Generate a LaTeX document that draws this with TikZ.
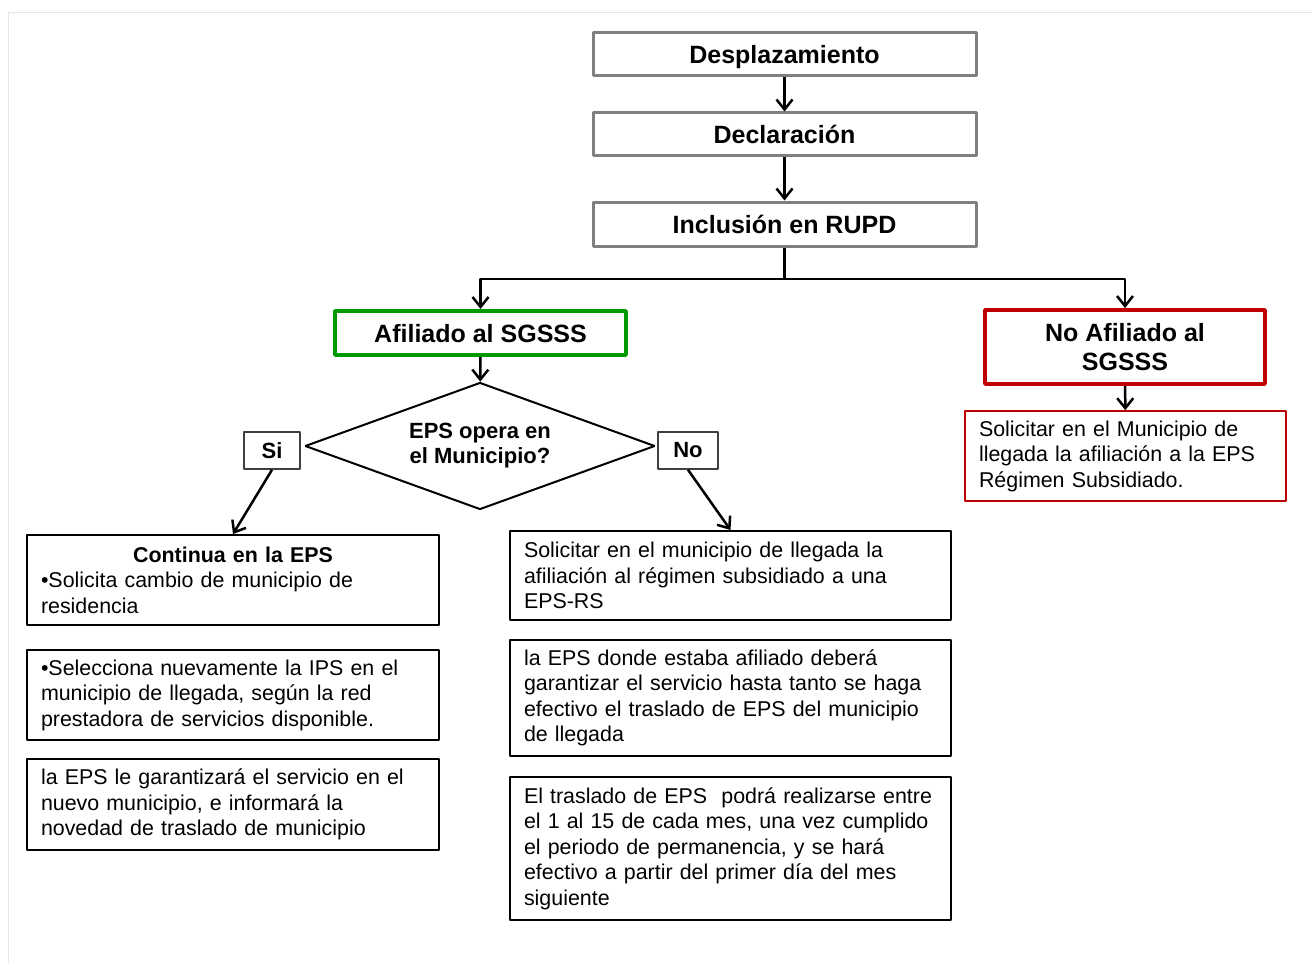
\documentclass[tikz,border=0pt]{standalone}
\usepackage{fontspec}
\setmainfont{Liberation Sans}
\usetikzlibrary{shapes.geometric,arrows.meta}
\definecolor{boxgray}{RGB}{127,127,127}
\definecolor{okgreen}{RGB}{0,153,0}
\definecolor{nored}{RGB}{192,0,0}

\begin{document}
\begin{tikzpicture}[>={Straight Barb[length=5pt,width=8pt]},line join=bevel,x=0.5pt,y=-0.5pt,
  headbase/.style={draw=boxgray,line width=1.5pt,minimum width=191.5pt,minimum height=21.5pt,inner sep=0pt,font=\bfseries\fontsize{12.5}{14.5}\selectfont},
  headbox/.style={headbase,text height=10.5pt,text depth=1pt},
  txtbox/.style={draw=black,line width=1pt,align=left,inner xsep=7pt,inner ysep=0pt,font=\fontsize{10.7}{12.75}\selectfont},
  tag/.style={draw=black!75,line width=0.8pt,minimum height=18.5pt,inner sep=0pt,font=\bfseries\fontsize{11}{13}\selectfont},
  conn/.style={line width=1.25pt}]
  \useasboundingbox (0,0) rectangle (1312,963);
  \draw[black!10,line width=0.5pt] (8,963) |- (1312,13);
%%
  % Node: desp
  \node[headbox] (desp) at (784.5,54.5) {Desplazamiento};
  % Node: decl
  \node[headbox] (decl) at (784.5,134.5) {Declaración};
  % Node: incl
  \node[headbox,minimum height=22pt] (incl) at (784.5,224) {Inclusión en RUPD};
  % Node: afil
  \node[headbox,draw=okgreen,line width=2pt,minimum width=145.5pt,minimum height=22pt] (afil) at (480.5,333) {Afiliado al SGSSS};
  % Node: noafil
  \node[headbase,draw=nored,line width=2pt,minimum width=140pt,minimum height=37pt,align=center] (noafil) at (1125,347) {No Afiliado al\\SGSSS};
  % Node: solrs
  \node[txtbox,draw=nored,line width=0.8pt,text width=146.5pt,minimum height=45pt] (solrs) at (1125.5,456) {Solicitar en el Municipio de\\llegada la afiliación a la EPS\\Régimen Subsidiado.};
  % Node: eps
  \node[draw,diamond,line width=1pt,aspect=2.75,minimum width=175pt,minimum height=63.5pt,inner sep=0pt,align=center,font=\bfseries\fontsize{11}{12.5}\selectfont] (eps) at (480,446) {EPS opera en\\el Municipio?};
  % Node: si
  \node[tag,minimum width=28pt] (si) at (272,450.5) {Si};
  % Node: no
  \node[tag,minimum width=30pt] (no) at (688,450.5) {No};
  % Node: cont
  \node[txtbox,text width=192pt,minimum height=45pt] (cont) at (233,580) {\makebox[\hsize][c]{\bfseries Continua en la EPS}\\•Solicita cambio de municipio de\\residencia};
  % Node: selec
  \node[txtbox,text width=192pt,minimum height=45pt] (selec) at (233,695) {•Selecciona nuevamente la IPS en el\\municipio de llegada, según la red\\prestadora de servicios disponible.};
  % Node: garan
  \node[txtbox,text width=192pt,minimum height=45.5pt] (garan) at (233,804.5) {la EPS le garantizará el servicio en el\\nuevo municipio, e informará la\\novedad de traslado de municipio};
  % Node: solic
  \node[txtbox,text width=206.5pt,minimum height=44.5pt] (solic) at (730.5,575.5) {Solicitar en el municipio de llegada la\\afiliación al régimen subsidiado a una\\EPS-RS};
  % Node: donde
  \node[txtbox,text width=206.5pt,minimum height=58pt] (donde) at (730.5,698) {la EPS donde estaba afiliado deberá\\garantizar el servicio hasta tanto se haga\\efectivo el traslado de EPS del municipio\\de llegada};
  % Node: trasl
  \node[txtbox,text width=206.5pt,minimum height=71.5pt] (trasl) at (730.5,848.5) {El traslado de EPS\ \ podrá realizarse entre\\el 1 al 15 de cada mes, una vez cumplido\\el periodo de permanencia, y se hará\\efectivo a partir del primer día del mes\\siguiente};
%%
  % Edge: desp -> decl
  \draw[conn,->] (desp) -- (decl);
  % Edge: decl -> incl
  \draw[conn,->] (decl) -- (incl);
  % Edge: incl -> afil, noafil
  \coordinate (split) at (784.5,279);
  \draw[conn] (incl) -- (split);
  \draw[conn,->] (split) -| (afil);
  \draw[conn,->] (split) -| (noafil);
  % Edge: afil -> eps
  \draw[conn,->] (afil) -- (eps);
  % Edge: noafil -> solrs
  \draw[conn,->] (noafil) -- (solrs);
  % Edge: si -> cont
  \draw[conn,->] (si.south) -- (cont.north);
  % Edge: no -> solic
  \draw[conn,->] (no.south) -- (solic.north);
%
\end{tikzpicture}
\end{document}
